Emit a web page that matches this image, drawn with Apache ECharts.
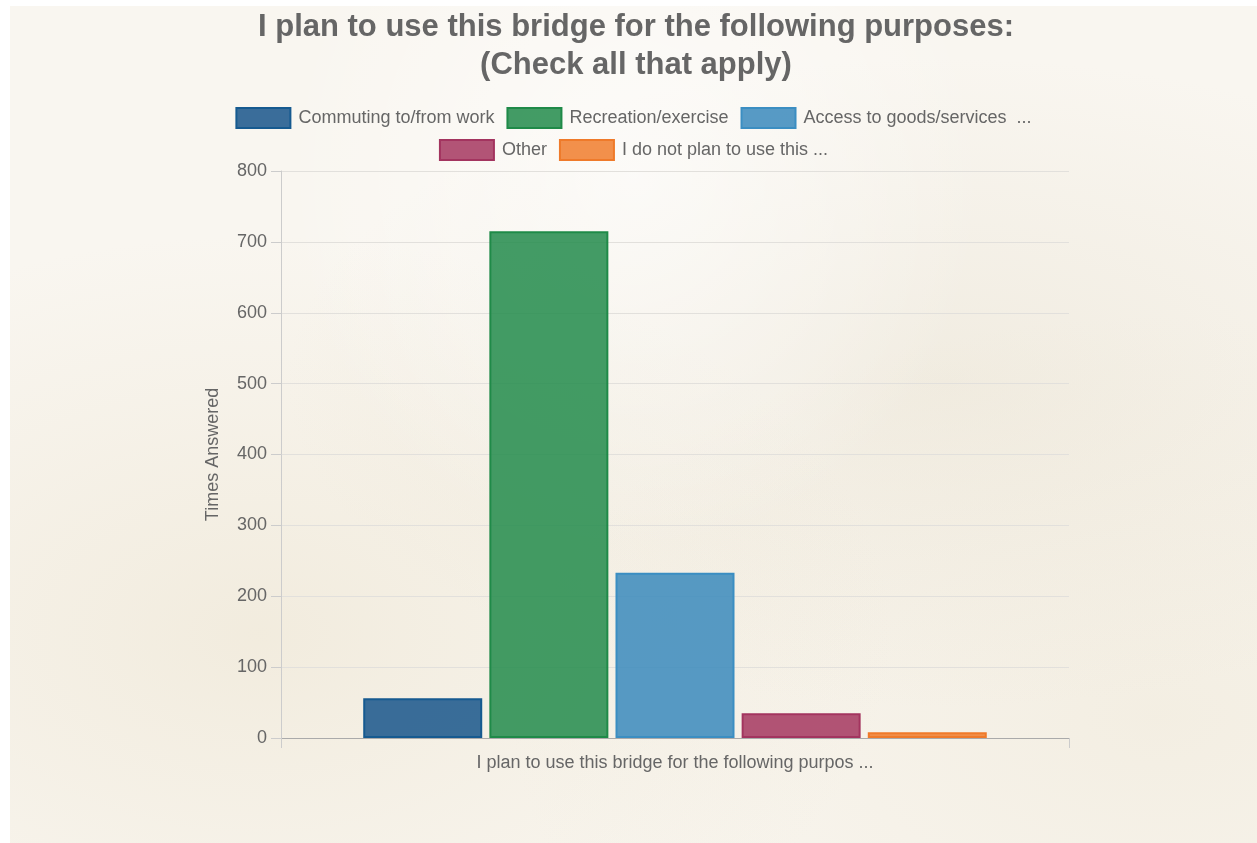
<!DOCTYPE html>
<html>
<head>
<meta charset="utf-8">
<script src="https://cdn.jsdelivr.net/npm/echarts@6/dist/echarts.min.js"></script>
<style>
  html, body { margin: 0; padding: 0; background: #ffffff; }
  #chart {
    position: absolute; left: 10px; top: 6px; width: 1247px; height: 837px;
    background:
      radial-gradient(ellipse at 50% 20%, rgba(255, 255, 255, 0.6), rgba(0,0,0,0) 40%),
      radial-gradient(ellipse at 20% 75%, rgba(225, 212, 180, 0.30), rgba(0,0,0,0) 45%),
      radial-gradient(ellipse at 75% 45%, rgba(220, 210, 185, 0.28), rgba(0,0,0,0) 50%),
      radial-gradient(ellipse at 92% 85%, rgba(230, 220, 195, 0.30), rgba(0,0,0,0) 40%),
      #f9f6f0;
  }
</style>
</head>
<body>
<div id="chart"></div>
<script>
const category = ['I plan to use this bridge for the following purpos ...'];
const seriesNames = ['Commuting to/from work', 'Recreation/exercise', 'Access to goods/services  ...', 'Other', 'I do not plan to use this ...'];
const seriesValues = [56, 715, 233, 35, 8];
const fillColors = ['rgba(31, 90, 141, 0.88)', 'rgba(34, 139, 75, 0.85)', 'rgba(58, 138, 188, 0.85)', 'rgba(165, 55, 95, 0.85)', 'rgba(240, 125, 45, 0.85)'];
const borderColors = ['#165a90', '#1f8a48', '#3b8ec2', '#a3345f', '#ef7a2a'];

const chart = echarts.init(document.getElementById('chart'));

const series = seriesNames.map((name, i) => ({
  name: name,
  type: 'bar',
  data: [seriesValues[i]],
  barWidth: 119,
  barGap: '6%',
  itemStyle: {
    color: fillColors[i],
    borderColor: borderColors[i],
    borderWidth: 2
  }
}));

const legendCommon = {
  icon: 'rect',
  itemWidth: 54,
  itemHeight: 20,
  itemGap: 12,
  textStyle: { color: '#666', fontSize: 18, fontFamily: 'Liberation Sans', padding: [0, 0, 0, 3] }
};

const option = {
  animation: false,
  textStyle: { fontFamily: 'Liberation Sans' },
  title: {
    text: 'I plan to use this bridge for the following purposes:\n(Check all that apply)',
    left: 621,
    textAlign: 'center',
    top: -3,
    textStyle: { color: '#666', fontSize: 31, fontWeight: 'bold', lineHeight: 38, fontFamily: 'Liberation Sans' }
  },
  legend: [
    Object.assign({}, legendCommon, { data: seriesNames.slice(0, 3), left: 'center', top: 96 }),
    Object.assign({}, legendCommon, { data: seriesNames.slice(3), left: 'center', top: 128 })
  ],
  grid: { left: 271, right: 188, top: 165, bottom: 105 },
  xAxis: {
    type: 'category',
    data: category,
    axisLine: { lineStyle: { color: '#aaa' } },
    axisTick: { show: true, length: 10, lineStyle: { color: '#ccc' } },
    axisLabel: { color: '#666', fontSize: 18, margin: 16 }
  },
  yAxis: {
    type: 'value',
    name: 'Times Answered',
    nameLocation: 'middle',
    nameGap: 59,
    nameTextStyle: { color: '#666', fontSize: 18 },
    min: 0,
    max: 800,
    interval: 100,
    axisLine: { show: true, lineStyle: { color: '#ccc' } },
    axisTick: { show: true, length: 10, lineStyle: { color: '#ccc' } },
    axisLabel: { color: '#666', fontSize: 18, margin: 14 },
    splitLine: { lineStyle: { color: '#e2e0dc' } }
  },
  series: series
};

chart.setOption(option);
</script>
</body>
</html>
